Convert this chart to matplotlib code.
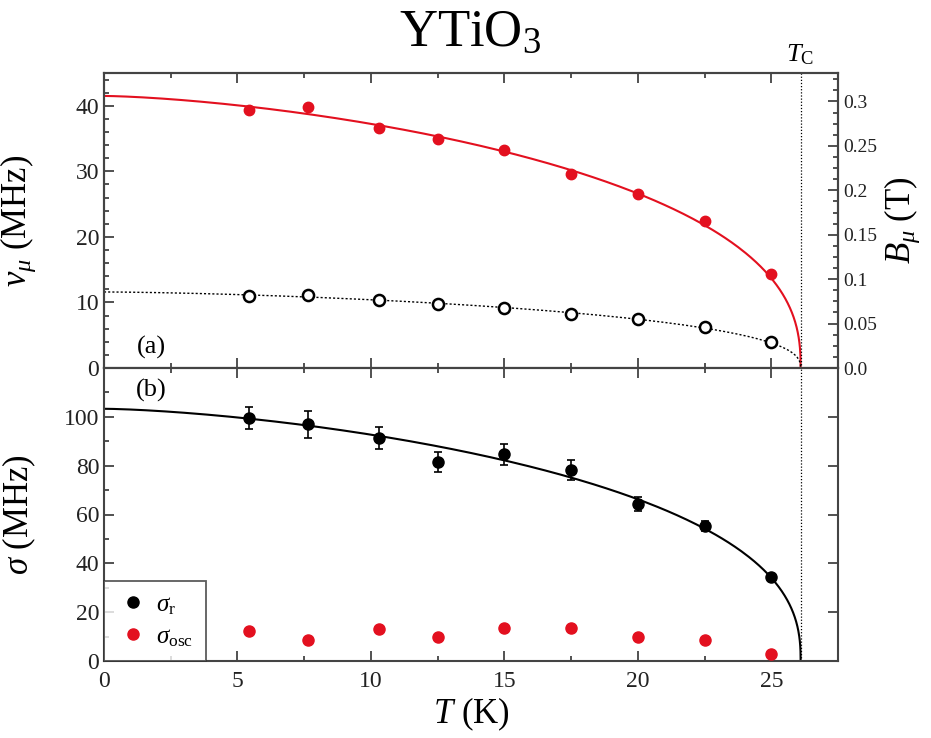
import numpy as np
import matplotlib
matplotlib.use("Agg")
import matplotlib.pyplot as plt
from matplotlib.ticker import MultipleLocator, AutoMinorLocator, FixedLocator
from matplotlib.lines import Line2D

plt.rcParams['font.family'] = ['Liberation Serif', 'DejaVu Serif']
plt.rcParams['mathtext.fontset'] = 'custom'
plt.rcParams['mathtext.rm'] = 'Liberation Serif'
plt.rcParams['mathtext.it'] = 'Liberation Serif:italic'
plt.rcParams['mathtext.bf'] = 'Liberation Serif:bold'

# temperatures of the measurements (K)
temps = [5.45, 7.65, 10.3, 12.5, 15.0, 17.5, 20.0, 22.5, 25.0]

# (a) precession frequencies (MHz)
nu_high = [39.3, 39.8, 36.6, 34.9, 33.3, 29.6, 26.6, 22.5, 14.3]
nu_low = [11.0, 11.1, 10.3, 9.7, 9.2, 8.2, 7.4, 6.2, 4.0]

# (b) relaxation rates (MHz)
sigma_r = [99.5, 97.0, 91.3, 81.7, 84.7, 78.3, 64.3, 55.3, 34.4]
sigma_r_err = [4.6, 5.5, 4.6, 4.1, 4.3, 4.2, 2.7, 2.0, 1.2]
sigma_osc = [12.3, 8.8, 13.0, 10.0, 13.4, 13.4, 10.0, 8.8, 2.8]
sigma_osc_err = [1.0, 1.0, 1.2, 1.0, 1.5, 1.5, 1.0, 1.0, 0.8]

# order-parameter fits: x(T) = x0 * (1 - (T/Tc)^alpha)^beta
Tc = 26.1
alpha = 1.5
beta = 0.4
nu_high_0 = 41.5
nu_low_0 = 11.6
sigma_r_0 = 103.3

gamma_mu = 135.54  # MHz/T

RED = '#e3101f'


def order_param(T, x0):
    return x0 * np.clip(1 - (T / Tc) ** alpha, 0, None) ** beta


T_fit = np.concatenate([np.linspace(0, 24, 200), np.linspace(24, Tc, 400)])

fig = plt.figure(figsize=(9.31, 7.38), dpi=100)
ax1 = fig.add_axes([104 / 931, 1 - 368 / 738, 734 / 931, 295 / 738])
ax2 = fig.add_axes([104 / 931, 1 - 661 / 738, 734 / 931, 293 / 738], sharex=ax1)

# panel (a)
ax1.plot(T_fit, order_param(T_fit, nu_high_0), color=RED, lw=1.5, zorder=2)
ax1.plot(T_fit, order_param(T_fit, nu_low_0), color='black', lw=1.0, ls=(0, (1.5, 1.5)), zorder=2)
ax1.plot(temps, nu_high, 'o', color=RED, ms=7.5, zorder=3)
ax1.plot(temps, nu_low, 'o', mfc='white', mec='black', mew=1.8, ms=8, zorder=3)
ax1.axvline(Tc, color='black', lw=0.9, ls=(0, (1, 1.5)))

ax1.set_xlim(0, 27.5)
ax1.set_ylim(0, 45)
ax1.set_ylabel(r'$\nu_\mu$ (MHz)', fontsize=25)
ax1.yaxis.set_major_locator(MultipleLocator(10))
ax1.yaxis.set_minor_locator(MultipleLocator(2))
ax1.text(0.065, 0.07, '(a)', transform=ax1.transAxes, fontsize=19, ha='center', va='center')

axr = ax1.twinx()
axr.set_ylim(0, 45 / gamma_mu)
axr.set_yticks([0, 0.05, 0.1, 0.15, 0.2, 0.25, 0.3])
axr.set_yticklabels(['0.0', '0.05', '0.1', '0.15', '0.2', '0.25', '0.3'])
axr.yaxis.set_minor_locator(AutoMinorLocator(4))
axr.set_ylabel(r'$B_\mu$ (T)', fontsize=25, labelpad=4)
axr.tick_params(axis='y', which='both', direction='in', labelsize=14, width=1.2, colors='#333333',
                labelcolor='#222222')
axr.tick_params(axis='y', which='major', length=7)
axr.tick_params(axis='y', which='minor', length=3.5)

# panel (b)
ax2.plot(T_fit, order_param(T_fit, sigma_r_0), color='black', lw=1.5, zorder=2)
ax2.errorbar(temps, sigma_r, yerr=sigma_r_err, fmt='o', color='black', ms=8, capsize=3,
             elinewidth=1.2, capthick=1.2, zorder=3)
ax2.errorbar(temps, sigma_osc, yerr=sigma_osc_err, fmt='o', color=RED, ms=8, capsize=0,
             elinewidth=1.0, zorder=3)
ax2.axvline(Tc, color='black', lw=0.9, ls=(0, (1, 1.5)))

ax2.set_ylim(0, 120)
ax2.set_ylabel(r'$\sigma$ (MHz)', fontsize=25)
ax2.set_xlabel(r'$T$ (K)', fontsize=25, labelpad=3)
ax2.yaxis.set_major_locator(FixedLocator([0, 20, 40, 60, 80, 100]))
ax2.yaxis.set_minor_locator(FixedLocator([10, 30, 50, 70, 90, 110]))
ax2.xaxis.set_major_locator(MultipleLocator(5))
ax2.xaxis.set_minor_locator(MultipleLocator(2.5))
ax2.text(0.065, 0.925, '(b)', transform=ax2.transAxes, fontsize=19, ha='center', va='center')

handles = [Line2D([], [], marker='o', ls='none', color='black', ms=8),
           Line2D([], [], marker='o', ls='none', color=RED, ms=8)]
leg = ax2.legend(handles, [r'$\sigma_{\rm r}$', r'$\sigma_{\rm osc}$'], loc='lower left',
                 bbox_to_anchor=(0, 0), borderaxespad=0, fontsize=18, frameon=True,
                 fancybox=False, handletextpad=0.3, handlelength=1.3, borderpad=0.5,
                 labelspacing=0.35)
leg.get_frame().set_edgecolor('#333333')
leg.get_frame().set_linewidth(1.3)

for ax in (ax1, ax2):
    ax.tick_params(axis='both', which='both', direction='in', top=True, labelsize=17,
                   width=1.2, colors='#333333', labelcolor='#222222')
    ax.tick_params(axis='y', right=(ax is ax2))
    ax.tick_params(which='major', length=7)
    ax.tick_params(which='minor', length=3.5)
    for s in ax.spines.values():
        s.set_linewidth(1.5)
        s.set_color('#444444')
for s in axr.spines.values():
    s.set_linewidth(1.5)
    s.set_color('#444444')

ax1.tick_params(axis='x', labelbottom=False)
ax2.tick_params(axis='x', pad=7)
ax1.yaxis.set_label_coords(-0.09, 0.5)
ax2.yaxis.set_label_coords(-0.09, 0.5)

fig.text(470 / 931, 1 - 33 / 738, r'YTiO$_3$', fontsize=38, ha='center', va='center')
fig.text(800 / 931, 1 - 55 / 738, r'$T_{\rm C}$', fontsize=19, ha='center', va='center')

fig.savefig('out.png', dpi=100)
